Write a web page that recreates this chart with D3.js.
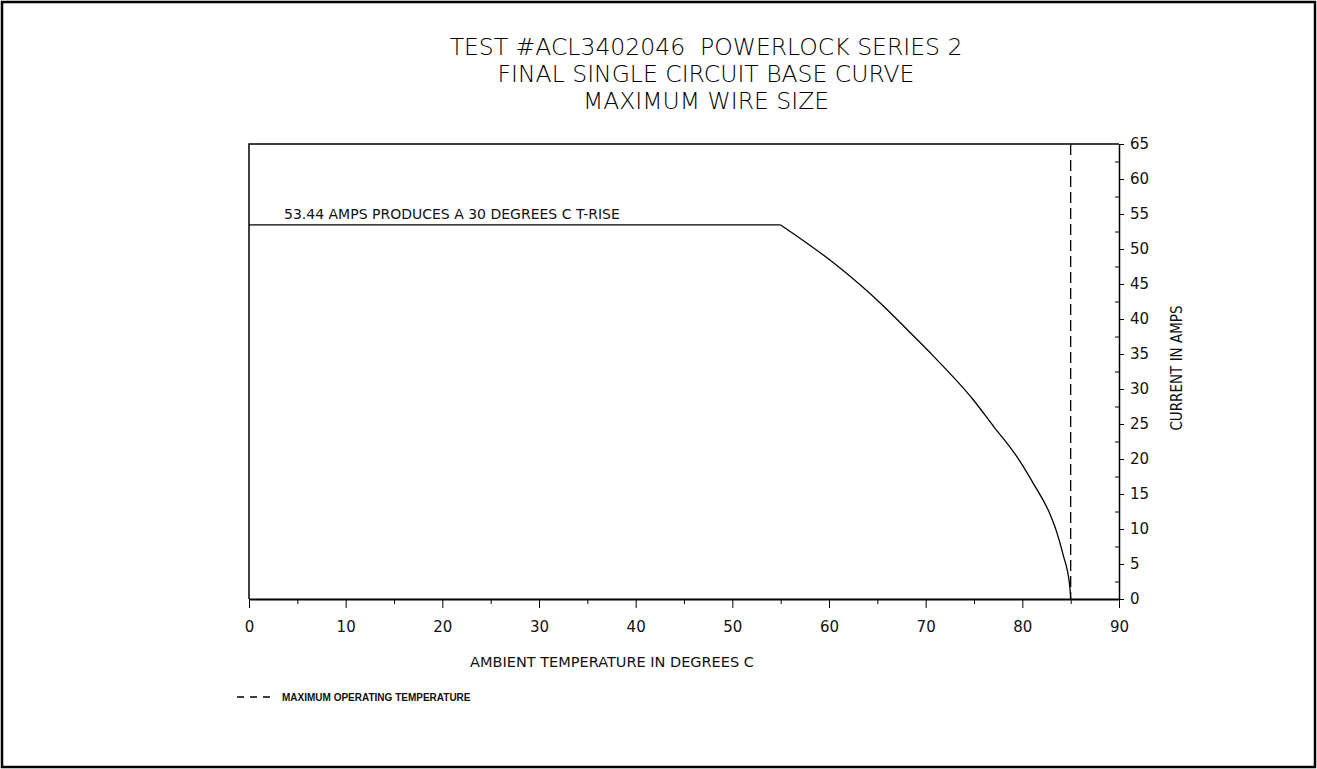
<!DOCTYPE html>
<html>
<head>
<meta charset="utf-8">
<script src="https://cdn.jsdelivr.net/npm/d3@7"></script>
<style>
  body { margin: 0; background: #fff; }
  svg { display: block; }
  .tick text { font-family: "DejaVu Sans", sans-serif; font-size: 15px; fill: #111; }
</style>
</head>
<body>
<script>
// data
const titleLines = ["TEST #ACL3402046  POWERLOCK SERIES 2", "FINAL SINGLE CIRCUIT BASE CURVE", "MAXIMUM WIRE SIZE"];
const tempC = [0, 55, 60.4, 65.6, 68.0, 70.8, 74.9, 77.0, 79.4, 81.1, 82.9, 83.5, 84.2, 84.9, 85];
const amps = [53.44, 53.44, 48.1, 41.9, 38.6, 34.7, 28.5, 24.7, 20.4, 16.6, 12.0, 9.8, 6.4, 1.9, 0];
const maxOpTemp = 85;
const xTicks = [0, 10, 20, 30, 40, 50, 60, 70, 80, 90];
const yTicks = [0, 5, 10, 15, 20, 25, 30, 35, 40, 45, 50, 55, 60, 65];

const width = 1317, height = 769;
const svg = d3.select("body").append("svg").attr("width", width).attr("height", height);

// page frame
svg.append("rect")
  .attr("x", 2).attr("y", 2).attr("width", width - 4).attr("height", height - 4)
  .attr("fill", "none").attr("stroke", "#000").attr("stroke-width", 2.5);

// titles
svg.selectAll(".title")
  .data(titleLines)
  .enter()
  .append("text")
  .attr("class", "title")
  .attr("x", 706)
  .attr("y", (d, i) => 55 + i * 27)
  .attr("text-anchor", "middle")
  .attr("font-family", "DejaVu Sans, sans-serif")
  .attr("font-weight", 200)
  .attr("font-size", "23.5px")
  .attr("fill", "#000")
  .style("white-space", "pre")
  .text(d => d);

const x = d3.scaleLinear().domain([0, 90]).range([249, 1119]);
const y = d3.scaleLinear().domain([0, 65]).range([599, 144]);

// frame lines (left + top)
svg.append("path")
  .attr("d", "M" + x(0) + "," + y(0) + "V" + y(65) + "H" + x(90))
  .attr("fill", "none").attr("stroke", "#000").attr("stroke-width", 1.5);

// minor ticks
svg.append("g")
  .attr("transform", "translate(0," + y(0) + ")")
  .call(d3.axisBottom(x).tickValues(d3.range(5, 90, 10)).tickSize(5).tickFormat("").tickSizeOuter(0))
  .call(g => g.select(".domain").remove());
svg.append("g")
  .attr("transform", "translate(" + x(90) + ",0)")
  .call(d3.axisRight(y).tickValues(d3.range(2.5, 65, 5)).tickSize(-4).tickFormat("").tickSizeOuter(0))
  .call(g => g.select(".domain").remove());

// x axis
const xAxis = svg.append("g")
  .attr("transform", "translate(0," + y(0) + ")")
  .call(d3.axisBottom(x).tickValues(xTicks).tickSize(9).tickPadding(13).tickSizeOuter(0));
xAxis.select(".domain").attr("stroke-width", 2);

// y axis on the right
const yAxis = svg.append("g")
  .attr("transform", "translate(" + x(90) + ",0)")
  .call(d3.axisRight(y).tickValues(yTicks).tickSize(5).tickPadding(6).tickSizeOuter(0));
yAxis.select(".domain").attr("stroke-width", 1.5);

svg.append("text")
  .attr("x", 612).attr("y", 667)
  .attr("text-anchor", "middle")
  .attr("font-family", "DejaVu Sans, sans-serif")
  .attr("font-size", "14.5px")
  .attr("fill", "#111")
  .text("AMBIENT TEMPERATURE IN DEGREES C");

svg.append("text")
  .attr("transform", "translate(1182,368) rotate(-90)")
  .attr("text-anchor", "middle")
  .attr("font-family", "DejaVu Sans Condensed, sans-serif")
  .attr("font-size", "15px")
  .attr("fill", "#111")
  .text("CURRENT IN AMPS");

// max operating temperature
svg.append("line")
  .attr("x1", x(maxOpTemp)).attr("x2", x(maxOpTemp))
  .attr("y1", y(65)).attr("y2", y(0))
  .attr("stroke", "#000").attr("stroke-width", 1.3)
  .attr("stroke-dasharray", "11,5");

// derating curve
const pts = tempC.map((t, i) => [t, amps[i]]);
const line = d3.line().x(d => x(d[0])).y(d => y(d[1]));
svg.append("path")
  .attr("d", line(pts.slice(0, 2)))
  .attr("fill", "none").attr("stroke", "#000").attr("stroke-width", 1.3);
svg.append("path")
  .attr("d", line.curve(d3.curveMonotoneX)(pts.slice(1)))
  .attr("fill", "none").attr("stroke", "#000").attr("stroke-width", 1.3);

svg.append("text")
  .attr("x", 284).attr("y", 219)
  .attr("font-family", "DejaVu Sans, sans-serif")
  .attr("font-size", "14px")
  .attr("fill", "#111")
  .text("53.44 AMPS PRODUCES A 30 DEGREES C T-RISE");

// legend
svg.append("line")
  .attr("x1", 237).attr("x2", 271).attr("y1", 697).attr("y2", 697)
  .attr("stroke", "#000").attr("stroke-width", 1.5).attr("stroke-dasharray", "7,6");
svg.append("text")
  .attr("x", 282).attr("y", 701)
  .attr("font-family", "Liberation Sans Narrow, sans-serif")
  .attr("font-weight", "bold")
  .attr("font-size", "10px")
  .attr("fill", "#111")
  .text("MAXIMUM OPERATING TEMPERATURE");
</script>
</body>
</html>
